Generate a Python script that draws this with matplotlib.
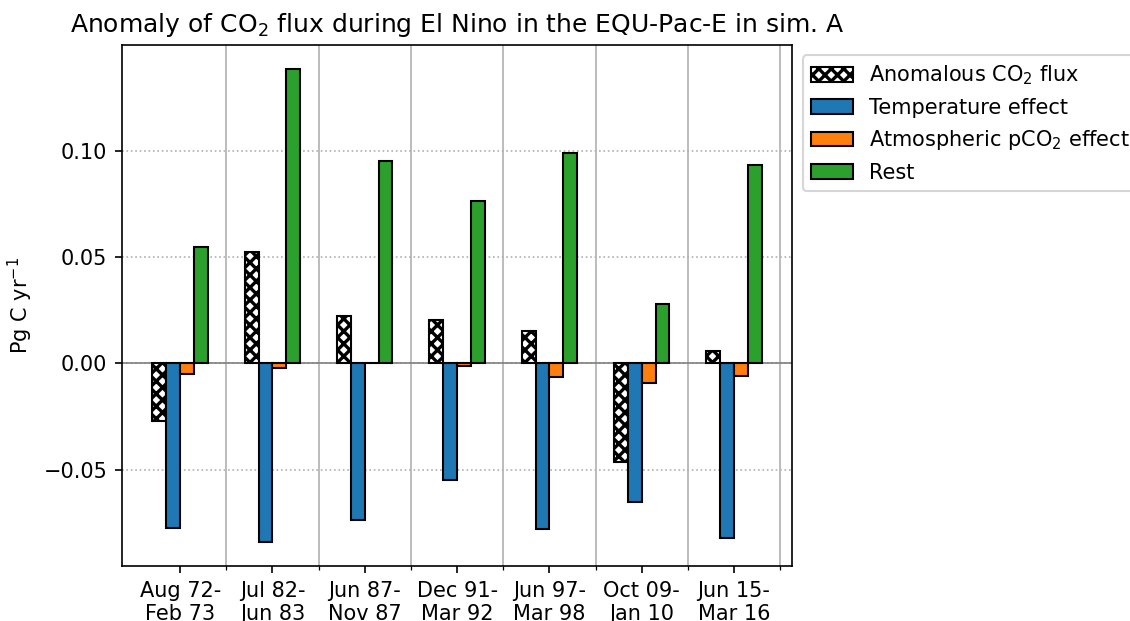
import matplotlib
matplotlib.use("Agg")
import matplotlib.pyplot as plt
import numpy as np

periods = ["Aug 72-\nFeb 73", "Jul 82-\nJun 83", "Jun 87-\nNov 87", "Dec 91-\nMar 92",
           "Jun 97-\nMar 98", "Oct 09-\nJan 10", "Jun 15-\nMar 16"]
anomalous_flux = [-0.0272, 0.0525, 0.0222, 0.0205, 0.0152, -0.0462, 0.0058]
temperature_effect = [-0.0774, -0.0842, -0.0736, -0.0547, -0.0779, -0.0652, -0.0820]
atm_pco2_effect = [-0.0050, -0.0022, 0.0004, -0.0013, -0.0064, -0.0092, -0.0060]
rest = [0.0550, 0.1388, 0.0953, 0.0765, 0.0993, 0.0280, 0.0932]

plt.rcParams["hatch.linewidth"] = 1.6

fig = plt.figure(figsize=(1130 / 150, 621 / 150), dpi=150)
ax = fig.add_axes([0.108, 0.0886, 0.593, 0.839])

x = np.arange(len(periods))
w = 0.15
ax.bar(x - 1.5 * w, anomalous_flux, w, color="white", edgecolor="black",
       hatch="xxxx", linewidth=1.0, label="Anomalous CO$_2$ flux", zorder=3)
ax.bar(x - 0.5 * w, temperature_effect, w, color="tab:blue", edgecolor="black",
       linewidth=1.0, label="Temperature effect", zorder=3)
ax.bar(x + 0.5 * w, atm_pco2_effect, w, color="tab:orange", edgecolor="black",
       linewidth=1.0, label="Atmospheric pCO$_2$ effect", zorder=3)
ax.bar(x + 1.5 * w, rest, w, color="tab:green", edgecolor="black",
       linewidth=1.0, label="Rest", zorder=3)

ax.axhline(0, color="gray", linewidth=0.8, zorder=2)

ax.set_xticks(x)
ax.set_xticklabels(periods)
ax.set_xticks(x + 0.5, minor=True)
ax.grid(which="minor", axis="x", color="#b0b0b0", linewidth=0.8, linestyle="-")
ax.grid(which="major", axis="y", color="#b0b0b0", linewidth=0.8, linestyle=":")
ax.set_axisbelow(True)
ax.set_yticks([-0.05, 0.0, 0.05, 0.10])

ax.set_ylabel("Pg C yr$^{-1}$")
ax.set_title("Anomaly of CO$_2$ flux during El Nino in the EQU-Pac-E in sim. A")
ax.legend(loc="upper left", bbox_to_anchor=(1.0, 1.0))

fig.savefig("out.png", dpi=150)
